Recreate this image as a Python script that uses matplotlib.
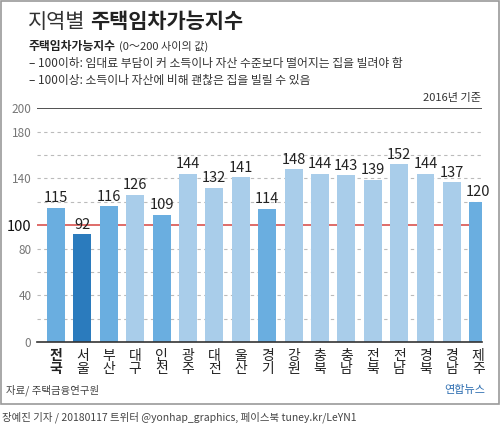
import matplotlib
matplotlib.use("Agg")
import matplotlib.pyplot as plt
from matplotlib.patches import Rectangle

plt.rcParams['font.family'] = ['Noto Sans CJK KR', 'DejaVu Sans']

regions = ["전\n국", "서\n울", "부\n산", "대\n구", "인\n천", "광\n주", "대\n전", "울\n산", "경\n기",
           "강\n원", "충\n북", "충\n남", "전\n북", "전\n남", "경\n북", "경\n남", "제\n주"]
values = [115, 92, 116, 126, 109, 144, 132, 141, 114, 148, 144, 143, 139, 152, 144, 137, 120]
ytick_vals = [0, 40, 80, 100, 140, 180, 200]

MED, DARK, LIGHT = "#6aaee0", "#2b7bbd", "#a9cdea"
colors = [MED, DARK, MED, LIGHT, MED, LIGHT, LIGHT, LIGHT, MED, LIGHT, LIGHT, LIGHT, LIGHT, LIGHT, LIGHT, LIGHT, MED]

fig = plt.figure(figsize=(5, 4.26), dpi=100)
fig.patch.set_facecolor("white")
fig.patches.append(Rectangle((0.002, 0.052), 0.996, 0.945, transform=fig.transFigure,
                             fill=False, edgecolor="#999999", lw=1.2))

ax = fig.add_axes([0.074, 0.197, 0.89, 0.549])
x = list(range(len(values)))
for y in range(20, 200, 20):
    if y != 100:
        ax.axhline(y, color="#bbbbbb", lw=0.8, ls=(0, (3, 3)), zorder=0)
ax.axhline(100, color="#d9534f", lw=1.2, zorder=1)
ax.axhline(200, color="#333333", lw=1.2, zorder=1)
ax.bar(x, values, width=0.68, color=colors, zorder=2)
for xi, v in zip(x, values):
    ax.text(xi, v + 2, str(v), ha="center", va="bottom", fontsize=10.5, color="#222222", zorder=3)

ax.set_xlim(-0.72, 16.14)
ax.set_ylim(0, 200)
ax.set_yticks(ytick_vals)
ax.set_yticklabels([str(t) for t in ytick_vals], fontsize=8.5, color="#777777")
for lbl in ax.get_yticklabels():
    if lbl.get_text() == "100":
        lbl.set_color("#111111"); lbl.set_fontsize(10.5)
ax.tick_params(axis="y", length=0, pad=4)
ax.set_xticks(x)
ax.set_xticklabels(regions, fontsize=10, linespacing=0.9, color="#222222")
ax.get_xticklabels()[0].set_fontweight("bold")
ax.tick_params(axis="x", length=0, pad=5)
for s in ["top", "right", "left"]:
    ax.spines[s].set_visible(False)
ax.spines["bottom"].set_color("#333333")
ax.spines["bottom"].set_linewidth(1.2)

fig.text(0.055, 0.935, "지역별", fontsize=15, color="#333333", va="baseline")
fig.text(0.18, 0.935, "주택임차가능지수", fontsize=15, fontweight="bold", color="#222222", va="baseline")
fig.text(0.058, 0.882, "주택임차가능지수", fontsize=8.5, fontweight="bold", color="#222222", va="baseline")
fig.text(0.238, 0.882, "(0～200 사이의 값)", fontsize=8, color="#333333", va="baseline")
fig.text(0.058, 0.843, "– 100이하: 임대료 부담이 커 소득이나 자산 수준보다 떨어지는 집을 빌려야 함", fontsize=8.5, color="#333333", va="baseline")
fig.text(0.058, 0.804, "– 100이상: 소득이나 자산에 비해 괜찮은 집을 빌릴 수 있음", fontsize=8.5, color="#333333", va="baseline")
fig.text(0.962, 0.762, "2016년 기준", fontsize=8, color="#333333", ha="right", va="baseline")
fig.text(0.012, 0.077, "자료/ 주택금융연구원", fontsize=7.5, style="italic", color="#444444", va="baseline")
fig.text(0.97, 0.077, "연합뉴스", fontsize=8, color="#2b6cb0", ha="right", va="baseline")
fig.text(0.004, 0.014, "장예진 기자 / 20180117 트위터 @yonhap_graphics, 페이스북 tuney.kr/LeYN1", fontsize=7.5, color="#444444", va="baseline")

fig.savefig("out.png", dpi=100)
